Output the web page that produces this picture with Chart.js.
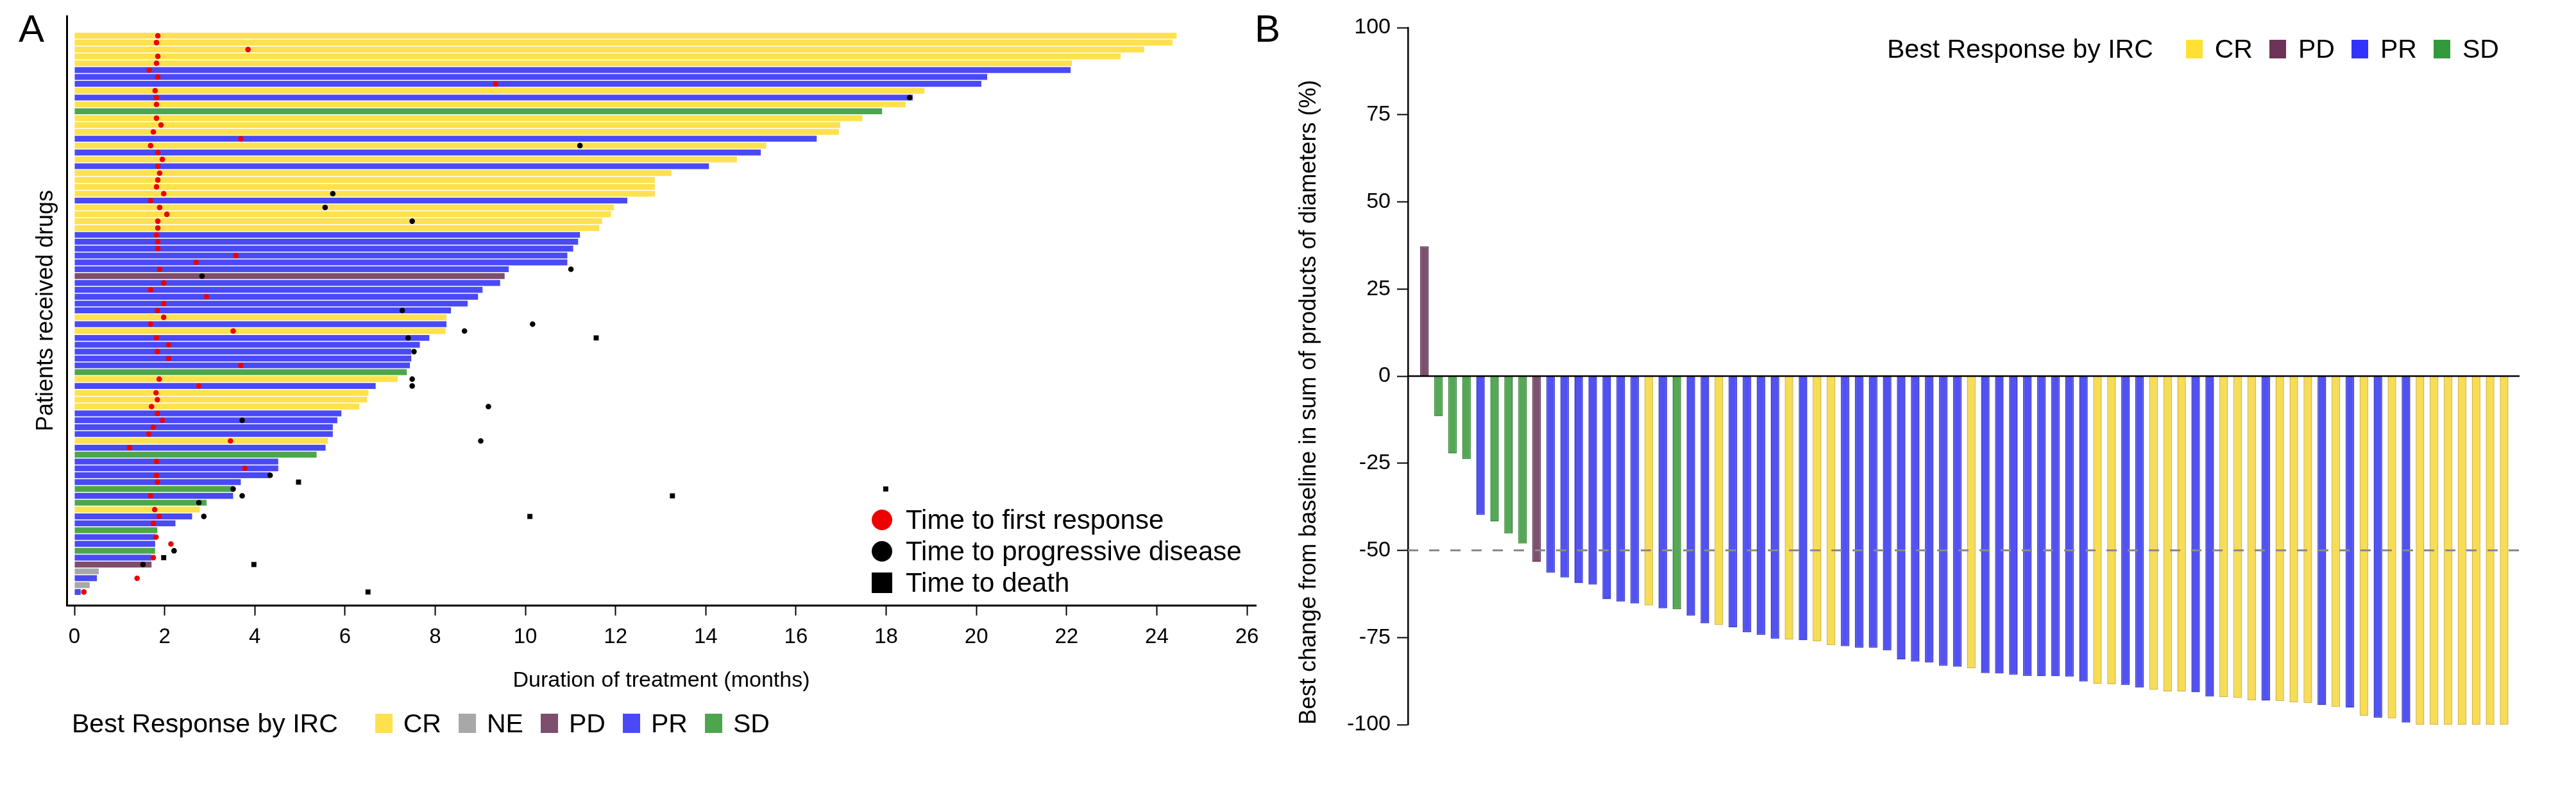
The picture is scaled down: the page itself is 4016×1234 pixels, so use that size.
<!DOCTYPE html>
<html>
<head>
<meta charset="utf-8">
<title>Duration of treatment and best response</title>
<script src="https://cdn.jsdelivr.net/npm/chart.js@4.4.0/dist/chart.umd.min.js"></script>
<style>
    html, body { margin: 0; padding: 0; background: #fff; }
    body {
        width: 4016px; height: 1234px; position: relative; overflow: hidden;
        font-family: 'Liberation Sans', Arial, sans-serif; color: #000;
    }
    canvas { position: absolute; top: 0; }
    #swimmerChart { left: 0; }
    #waterfallChart { left: 1990px; }
    .panel-label { position: absolute; font-size: 60px; line-height: 60px; }
    .legend-row {
        position: absolute; display: flex; align-items: center;
        height: 50px; font-size: 41px; white-space: nowrap;
    }
    .legend-row .swatch { flex: none; }
    .marker-legend { position: absolute; left: 1359px; top: 785px; font-size: 42px; white-space: nowrap; }
    .marker-item { display: flex; align-items: center; height: 49px; }
    .marker { width: 32px; height: 32px; margin-right: 21px; flex: none; }
</style>
</head>
<body>
<div class="panel-label" style="left:29px; top:15px;">A</div>
<div class="panel-label" style="left:1956px; top:15px;">B</div>

<canvas id="swimmerChart" width="1990" height="1234"></canvas>
<canvas id="waterfallChart" width="2026" height="1234"></canvas>

<div class="marker-legend">
    <div class="marker-item"><span class="marker" style="background:#EE0000; border-radius:50%;"></span>Time to first response</div>
    <div class="marker-item"><span class="marker" style="background:#000; border-radius:50%;"></span>Time to progressive disease</div>
    <div class="marker-item"><span class="marker" style="background:#000;"></span>Time to death</div>
</div>
<div class="legend-row" id="swimmer-legend" style="left:112px; top:1102px;"></div>
<div class="legend-row" id="waterfall-legend" style="left:2942px; top:51px;"></div>

<script>
// Panel A: one row per patient, top to bottom
const patientResponse = [
    'CR','CR','CR','CR','CR','PR','PR','PR','CR','PR',
    'CR','SD','CR','CR','CR','PR','CR','PR','CR','PR',
    'CR','CR','CR','CR','PR','CR','CR','CR','CR','PR',
    'PR','PR','PR','PR','PR','PD','PR','PR','PR','PR',
    'PR','CR','PR','CR','PR','PR','PR','PR','PR','SD',
    'CR','PR','CR','CR','CR','PR','PR','PR','PR','CR',
    'PR','SD','PR','PR','PR','PR','SD','PR','SD','CR',
    'PR','PR','SD','PR','PR','SD','PR','PD','NE','PR',
    'NE','PR'
];
const treatmentMonths = [
    24.44, 24.35, 23.72, 23.20, 22.12, 22.09, 20.24, 20.11, 18.85, 18.59,
    18.43, 17.91, 17.47, 16.98, 16.95, 16.46, 15.34, 15.22, 14.69, 14.07,
    13.24, 12.87, 12.87, 12.87, 12.26, 11.96, 11.90, 11.70, 11.64, 11.21,
    11.17, 11.06, 10.93, 10.93, 9.63, 9.54, 9.44, 9.05, 8.95, 8.72,
    8.35, 8.25, 8.25, 8.23, 7.87, 7.66, 7.47, 7.47, 7.44, 7.37,
    7.17, 6.68, 6.52, 6.49, 6.32, 5.92, 5.83, 5.73, 5.73, 5.62,
    5.57, 5.37, 4.52, 4.52, 4.34, 3.69, 3.52, 3.52, 2.93, 2.78,
    2.61, 2.24, 1.84, 1.79, 1.79, 1.79, 1.71, 1.71, 0.54, 0.50,
    0.34, 0.14
];
const firstResponseMonths = [
    1.85, 1.82, 3.85, 1.85, 1.82, 1.66, 1.85, 9.34, 1.79, 1.82,
    1.82, null, 1.82, 1.92, 1.75, 3.69, 1.69, 1.85, 1.95, 1.85,
    1.89, 1.85, 1.82, 1.98, 1.69, 1.89, 2.05, 1.85, 1.85, 1.82,
    1.85, 1.85, 3.58, 2.70, 1.89, null, 1.98, 1.69, 2.93, 1.98,
    1.84, 1.98, 1.69, 3.52, 1.82, 2.09, 1.84, 2.09, 3.69, null,
    1.88, 2.76, 1.81, 1.84, 1.71, 1.84, 1.95, 1.75, 1.65, 3.46,
    1.22, null, 1.82, 3.78, 1.82, 1.84, null, 1.69, null, 1.78,
    1.88, 1.75, null, 1.81, 2.14, null, 1.75, null, null, 1.39,
    null, 0.21
];
// [patient row, months]
const progressionEvents = [
    [10, 18.52], [17, 11.21], [24, 5.73], [26, 5.56], [28, 7.49], [35, 11.01],
    [36, 2.83], [41, 7.27], [43, 10.16], [44, 8.65], [45, 7.40], [47, 7.53],
    [51, 7.49], [52, 7.49], [55, 9.18], [57, 3.72], [60, 9.01], [65, 4.34],
    [67, 3.52], [68, 3.72], [69, 2.76], [71, 2.87], [76, 2.21], [78, 1.52]
];
const deathEvents = [
    [45, 11.57], [66, 4.97], [67, 17.99], [68, 13.26], [71, 10.10],
    [77, 1.98], [78, 3.98], [82, 6.51]
];
const monthTicks = [0, 2, 4, 6, 8, 10, 12, 14, 16, 18, 20, 22, 24, 26];
const swimmerLegendOrder = ['CR', 'NE', 'PD', 'PR', 'SD'];

// Panel B: waterfall, one bar per evaluable patient
const waterfallResponse = [
    'PD','SD','SD','SD','PR','SD','SD','SD','PD','PR',
    'PR','PR','PR','PR','PR','PR','CR','PR','SD','PR',
    'PR','CR','PR','PR','PR','PR','CR','PR','CR','CR',
    'PR','PR','PR','PR','PR','PR','PR','PR','PR','CR',
    'PR','PR','PR','PR','PR','PR','PR','PR','CR','CR',
    'PR','PR','CR','CR','CR','PR','PR','CR','CR','CR',
    'PR','CR','CR','CR','PR','CR','PR','CR','PR','CR',
    'PR','CR','CR','CR','CR','CR','CR','CR'
];
const waterfallChange = [
    37.2, -11.5, -22.2, -23.8, -39.8, -41.7, -45.1, -48.0, -53.3, -56.4,
    -57.8, -59.4, -59.8, -64.0, -64.7, -65.2, -65.8, -66.6, -66.9, -68.7,
    -70.9, -71.4, -72.1, -73.5, -74.2, -75.3, -75.6, -75.8, -76.1, -77.2,
    -77.5, -77.9, -77.9, -78.7, -81.3, -81.9, -82.2, -83.1, -83.4, -83.8,
    -85.2, -85.3, -85.7, -86.0, -86.1, -86.1, -86.2, -87.6, -88.3, -88.4,
    -88.6, -89.3, -90.0, -90.5, -90.5, -90.7, -91.9, -92.1, -92.3, -93.0,
    -93.1, -93.2, -93.6, -93.8, -94.4, -94.9, -95.1, -97.4, -98.0, -98.2,
    -99.4, -100, -100, -100, -100, -100, -100, -100
];
const changeTicks = [-100, -75, -50, -25, 0, 25, 50, 75, 100];
const responseThreshold = -50;
const waterfallLegendOrder = ['CR', 'PD', 'PR', 'SD'];

const swimmerColors = { CR: '#FFE14F', NE: '#A8A8A8', PD: '#7D4E6E', PR: '#4A4AF5', SD: '#4DA64D' };
const waterfallColors = { CR: '#F7DC55', PD: '#7E5070', PR: '#5252F2', SD: '#55A855' };
const waterfallEdges = { CR: '#D2B43C', PD: '#5C3550', PR: '#3636C6', SD: '#3B853B' };
const waterfallLegendColors = { CR: '#FFE033', PD: '#6E3358', PR: '#3333FF', SD: '#33993D' };

document.addEventListener('DOMContentLoaded', function() {
    Chart.defaults.font.family = "'Liberation Sans', Arial, sans-serif";
    Chart.defaults.color = '#000';

    initializeSwimmerChart();
    initializeWaterfallChart();
    renderLegend('swimmer-legend', swimmerLegendOrder, swimmerColors, { titleGap: 58, swatchW: 27, swatchH: 30, labelGap: 17, itemGap: 27 });
    renderLegend('waterfall-legend', waterfallLegendOrder, waterfallLegendColors, { titleGap: 51, swatchW: 26, swatchH: 29, labelGap: 19, itemGap: 26 });
});

function initializeSwimmerChart() {
    const ctx = document.getElementById('swimmerChart');
    if (!ctx) return;

    const rows = treatmentMonths.map((_, i) => i + 1);
    const toPoints = events => events.map(e => ({ x: e[1], y: e[0] }));

    new Chart(ctx, {
        type: 'bar',
        data: {
            datasets: [
                {
                    type: 'scatter',
                    label: 'Time to first response',
                    data: firstResponseMonths
                        .map((m, i) => (m === null ? null : { x: m, y: rows[i] }))
                        .filter(Boolean),
                    pointStyle: 'circle',
                    radius: 4.3,
                    backgroundColor: '#EE0000',
                    borderWidth: 0,
                    order: 0
                },
                {
                    type: 'scatter',
                    label: 'Time to progressive disease',
                    data: toPoints(progressionEvents),
                    pointStyle: 'circle',
                    radius: 4.3,
                    backgroundColor: '#000',
                    borderWidth: 0,
                    order: 0
                },
                {
                    type: 'scatter',
                    label: 'Time to death',
                    data: toPoints(deathEvents),
                    pointStyle: 'rect',
                    radius: 5.6,
                    backgroundColor: '#000',
                    borderWidth: 0,
                    order: 0
                },
                {
                    type: 'bar',
                    label: 'Duration of treatment',
                    indexAxis: 'y',
                    data: rows.map((r, i) => ({ x: treatmentMonths[i], y: r })),
                    backgroundColor: patientResponse.map(c => swimmerColors[c]),
                    borderWidth: 0,
                    barPercentage: 0.86,
                    categoryPercentage: 1,
                    order: 1
                }
            ]
        },
        options: {
            responsive: false,
            animation: false,
            devicePixelRatio: 1,
            layout: { padding: { left: 0, top: 25, right: 32, bottom: 153 } },
            plugins: {
                legend: { display: false },
                tooltip: { enabled: false }
            },
            scales: {
                x: {
                    type: 'linear',
                    position: 'bottom',
                    offset: false,
                    min: -0.1707,
                    max: 26.199,
                    afterBuildTicks: scale => { scale.ticks = monthTicks.map(v => ({ value: v })); },
                    afterFit: scale => { scale.height = 138; },
                    grid: {
                        display: true,
                        offset: false,
                        drawOnChartArea: false,
                        drawTicks: true,
                        tickLength: 16,
                        tickWidth: 2,
                        tickColor: '#000'
                    },
                    border: { display: true, width: 3, color: '#000' },
                    ticks: { font: { size: 33 }, color: '#000', padding: 14, maxRotation: 0, autoSkip: false },
                    title: {
                        display: true,
                        text: 'Duration of treatment (months)',
                        font: { size: 34 },
                        color: '#000',
                        padding: { top: 0, bottom: 0 }
                    }
                },
                y: {
                    type: 'linear',
                    position: 'left',
                    offset: false,
                    reverse: true,
                    min: -1.87,
                    max: 83.93,
                    afterFit: scale => { scale.width = 104; },
                    grid: { display: false, offset: false },
                    border: { display: true, width: 3, color: '#000' },
                    ticks: { display: false },
                    title: {
                        display: true,
                        text: 'Patients received drugs',
                        font: { size: 36 },
                        color: '#000',
                        padding: { top: 50, bottom: 0 }
                    }
                }
            }
        }
    });
}

// zero line and the -50% dashed reference, drawn through the y scale
const referenceLines = {
    id: 'referenceLines',
    afterDatasetsDraw(chart) {
        const { ctx, chartArea, scales } = chart;
        const yThreshold = scales.y.getPixelForValue(responseThreshold);
        const yZero = scales.y.getPixelForValue(0);

        ctx.save();
        ctx.strokeStyle = '#8A8A8A';
        ctx.lineWidth = 3;
        ctx.setLineDash([16, 17]);
        ctx.beginPath();
        ctx.moveTo(chartArea.left, yThreshold);
        ctx.lineTo(chartArea.right, yThreshold);
        ctx.stroke();

        ctx.setLineDash([]);
        ctx.strokeStyle = '#000';
        ctx.lineWidth = 2.5;
        ctx.beginPath();
        ctx.moveTo(chartArea.left, yZero);
        ctx.lineTo(chartArea.right, yZero);
        ctx.stroke();
        ctx.restore();
    }
};

function initializeWaterfallChart() {
    const ctx = document.getElementById('waterfallChart');
    if (!ctx) return;

    new Chart(ctx, {
        type: 'bar',
        data: {
            datasets: [{
                label: 'Best change from baseline',
                data: waterfallChange.map((v, i) => ({ x: i, y: v })),
                backgroundColor: waterfallResponse.map(c => waterfallColors[c]),
                borderColor: waterfallResponse.map(c => waterfallEdges[c]),
                borderWidth: 1.5,
                barPercentage: 0.61,
                categoryPercentage: 1
            }]
        },
        options: {
            responsive: false,
            animation: false,
            devicePixelRatio: 1,
            layout: { padding: { left: 0, top: 43, right: 88, bottom: 105 } },
            plugins: {
                legend: { display: false },
                tooltip: { enabled: false }
            },
            scales: {
                x: {
                    type: 'linear',
                    offset: false,
                    grid: { offset: false },
                    min: -1.175,
                    max: 78.1,
                    display: false
                },
                y: {
                    type: 'linear',
                    offset: false,
                    min: -100,
                    max: 100,
                    afterBuildTicks: scale => { scale.ticks = changeTicks.map(v => ({ value: v })); },
                    afterFit: scale => { scale.width = 205; },
                    grid: {
                        display: true,
                        offset: false,
                        drawOnChartArea: false,
                        drawTicks: true,
                        tickLength: 17,
                        tickWidth: 2,
                        tickColor: '#000'
                    },
                    border: { display: true, width: 2.5, color: '#000' },
                    ticks: { font: { size: 34 }, color: '#000', padding: 10 },
                    title: {
                        display: true,
                        text: 'Best change from baseline in sum of products of diameters (%)',
                        align: 'start',
                        font: { size: 36 },
                        color: '#000',
                        padding: { top: 29, bottom: 0 }
                    }
                }
            }
        },
        plugins: [referenceLines]
    });
}

function renderLegend(containerId, order, colors, sizes) {
    const container = document.getElementById(containerId);
    if (!container) return;

    container.innerHTML = '';
    const title = document.createElement('span');
    title.textContent = 'Best Response by IRC';
    title.style.marginRight = sizes.titleGap + 'px';
    container.appendChild(title);

    order.forEach(code => {
        const swatch = document.createElement('span');
        swatch.className = 'swatch';
        swatch.style.width = sizes.swatchW + 'px';
        swatch.style.height = sizes.swatchH + 'px';
        swatch.style.background = colors[code];
        swatch.style.marginRight = sizes.labelGap + 'px';
        container.appendChild(swatch);

        const label = document.createElement('span');
        label.textContent = code;
        label.style.marginRight = sizes.itemGap + 'px';
        container.appendChild(label);
    });
}
</script>
</body>
</html>
